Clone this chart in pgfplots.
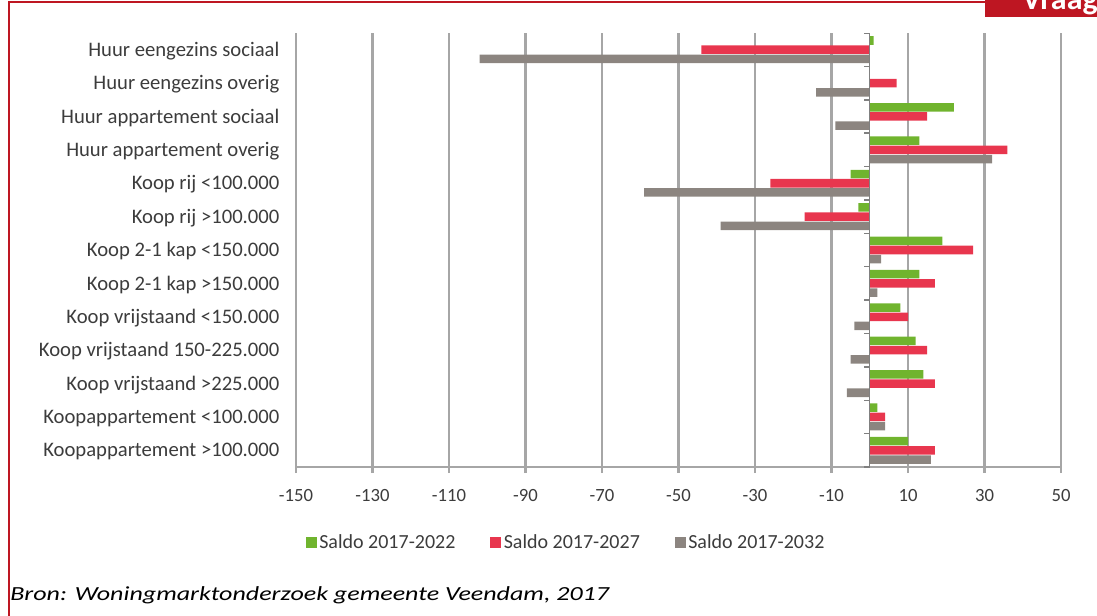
\documentclass[border=0pt]{standalone}
\usepackage{pgfplots}
\pgfplotsset{compat=1.18}
\usepackage{fontspec}
\setmainfont{Carlito}
\newfontfamily\bronfont[FakeStretch=1.3]{Carlito}

\definecolor{cGreen}{RGB}{112,180,46}
\definecolor{cRed}{RGB}{232,54,78}
\definecolor{cGray}{RGB}{140,133,128}
\definecolor{cGrid}{RGB}{166,166,166}
\definecolor{cAxis}{RGB}{128,128,128}
\definecolor{cFrame}{RGB}{190,22,34}
\definecolor{cText}{RGB}{60,60,60}

\pgfplotsset{
  /pgfplots/xbar legend/.style={
    /pgfplots/legend image code/.code={%
      \fill[##1,draw=none] (0pt,-4.1pt) rectangle (8.25pt,4.1pt);},
  },
}

\begin{document}
\begin{tikzpicture}
% frame, tab and source line, in pixel units of the reference
\begin{scope}[x=0.75pt,y=-0.75pt]
  \path[use as bounding box] (0,0) rectangle (1097,615);
  \draw[cFrame, line width=1.5pt] (9,616) -- (9,2) -- (985,2);
  \begin{scope}
    \clip (985,0) rectangle (1097,17);
    \fill[cFrame] (985,0) rectangle (1097,17);
    \node[anchor=base west, inner sep=0, text=white,
      font=\fontsize{24}{24}\selectfont\bfseries] at (1022,9) {Vraag};
  \end{scope}
  \node[anchor=base west, inner sep=0, text=black,
    font=\bronfont\itshape\fontsize{15}{18}\selectfont] at (10,600)
    {Bron: Woningmarktonderzoek gemeente Veendam, 2017};
\end{scope}

\begin{axis}[
  at={(222pt,-350.25pt)}, anchor=south west,
  width=573.75pt, height=325.5pt, scale only axis,
  xbar, bar width=6.4pt,
  xmin=-150, xmax=50,
  ymin=-0.5, ymax=12.5,
  xtick={-150,-130,...,50},
  xticklabels={-150,-130,-110,-90,-70,-50,-30,-10,10,30,50},
  ytick={0,...,12},
  yticklabels={
    Koopappartement >100.000,
    Koopappartement <100.000,
    Koop vrijstaand >225.000,
    Koop vrijstaand 150-225.000,
    Koop vrijstaand <150.000,
    Koop 2-1 kap >150.000,
    Koop 2-1 kap <150.000,
    Koop rij >100.000,
    Koop rij <100.000,
    Huur appartement overig,
    Huur appartement sociaal,
    Huur eengezins overig,
    Huur eengezins sociaal},
  axis x line*=bottom, axis y line*=left,
  x axis line style={-, cGrid, line width=1.9pt},
  y axis line style={draw=none},
  xmajorgrids, grid style={cGrid, line width=1.6pt},
  tick align=outside,
  major tick length=4.5pt,
  xtick style={cGrid, line width=1.6pt},
  ytick style={draw=none},
  xticklabel style={font=\fontsize{14}{16}\selectfont, text=cText, inner sep=0pt, yshift=-12pt},
  yticklabel style={font=\fontsize{15.5}{17}\selectfont, text=cText, inner sep=0pt, xshift=-7.75pt, yshift=-1pt},
  legend style={at={(0.007,-0.175)}, anchor=west, draw=none, fill=none,
    legend columns=3, font=\fontsize{15}{17}\selectfont, text=cText,
    /tikz/every even column/.append style={column sep=24pt}},
  legend cell align=left,
]

\addplot[fill=cGreen, draw=none, bar shift=6.9pt] coordinates {
  (10,0) (2,1) (14,2) (12,3) (8,4) (13,5) (19,6)
  (-3,7) (-5,8) (13,9) (22,10) (0,11) (1,12)
};
\addplot[fill=cRed, draw=none, bar shift=0pt] coordinates {
  (17,0) (4,1) (17,2) (15,3) (10,4) (17,5) (27,6)
  (-17,7) (-26,8) (36,9) (15,10) (7,11) (-44,12)
};
\addplot[fill=cGray, draw=none, bar shift=-6.9pt] coordinates {
  (16,0) (4,1) (-6,2) (-5,3) (-4,4) (2,5) (3,6)
  (-39,7) (-59,8) (32,9) (-9,10) (-14,11) (-102,12)
};
\legend{Saldo 2017-2022, Saldo 2017-2027, Saldo 2017-2032}

% vertical axis at zero with category ticks
\draw[cAxis, line width=1.1pt] (axis cs:0,-0.5) -- (axis cs:0,12.5);
\pgfplotsinvokeforeach{-0.5,0.5,...,12.5}{
  \draw[cAxis, line width=1.1pt] (axis cs:0,#1) -- ++(-4pt,0pt);
}
\end{axis}
\end{tikzpicture}
\end{document}
